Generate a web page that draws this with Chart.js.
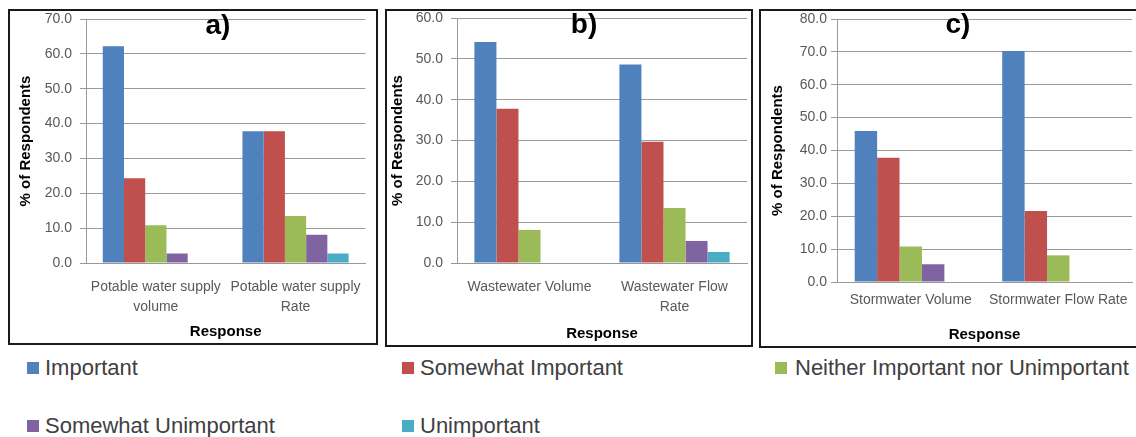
<!DOCTYPE html>
<html>
<head>
<meta charset="utf-8">
<script src="https://cdn.jsdelivr.net/npm/chart.js@4"></script>
<style>
body { margin: 0; background: #fff; width: 1136px; height: 437px; overflow: hidden; position: relative; font-family: 'Liberation Sans', Arial, sans-serif; }
.panel { position: absolute; border: 2px solid #1a1a1a; box-sizing: border-box; background: #fff; }
.panel canvas { display: block; }
.key { position: absolute; font-size: 22px; color: #404040; white-space: nowrap; line-height: 24px; height: 24px; }
.key i { position: absolute; left: 0; top: 6px; width: 12px; height: 12px; }
</style>
</head>
<body>
<div class="panel" style="left:8px;top:9px;width:370px;height:336px"><canvas id="a" width="366" height="332"></canvas></div>
<div class="panel" style="left:385px;top:9px;width:368px;height:338px"><canvas id="b" width="364" height="334"></canvas></div>
<div class="panel" style="left:759px;top:9px;width:380px;height:339px"><canvas id="c" width="376" height="335"></canvas></div>
<div id="legend"></div>
<script>
// responses (series)
const responses = ['Important', 'Somewhat Important', 'Neither Important nor Unimportant', 'Somewhat Unimportant', 'Unimportant'];
const colors = ['#4F81BD', '#C0504D', '#9BBB59', '#8064A2', '#4BACC6'];

// a) potable water
const potableCats = [['Potable water supply', 'volume'], ['Potable water supply', 'Rate']];
const potableVolume = [62.2, 24.3, 10.8, 2.7, 0];
const potableRate = [37.8, 37.8, 13.5, 8.1, 2.7];

// b) wastewater
const wasteCats = ['Wastewater Volume', ['Wastewater Flow', 'Rate']];
const wasteVolume = [54.1, 37.8, 8.1, 0, 0];
const wasteFlow = [48.6, 29.7, 13.5, 5.4, 2.7];

// c) stormwater
const stormCats = ['Stormwater Volume', 'Stormwater Flow Rate'];
const stormVolume = [45.9, 37.8, 10.8, 5.4, 0];
const stormFlow = [70.3, 21.6, 8.1, 0, 0];

const FONT = "'Liberation Sans', Arial, sans-serif";
Chart.defaults.font.family = FONT;
Chart.defaults.color = '#595959';

const panelLetter = {
  id: 'panelLetter',
  afterDraw(chart, args, opts) {
    const ctx = chart.ctx;
    ctx.save();
    ctx.font = 'bold 28px ' + FONT;
    ctx.fillStyle = '#000';
    ctx.textAlign = 'center';
    ctx.textBaseline = 'middle';
    ctx.fillText(opts.text, opts.x, opts.y);
    ctx.restore();
  }
};

function makePanel(id, cats, groups, max, cfg) {
  const datasets = responses.map((name, i) => ({
    label: name,
    data: groups.map(g => g[i]),
    backgroundColor: colors[i],
    barPercentage: 1,
    categoryPercentage: 0.76,
  }));
  new Chart(document.getElementById(id), {
    type: 'bar',
    data: { labels: cats, datasets: datasets },
    plugins: [panelLetter],
    options: {
      responsive: false,
      animation: false,
      layout: { padding: { left: 0, top: cfg.padTop, right: cfg.padRight, bottom: 0 } },
      plugins: {
        legend: { display: false },
        tooltip: { enabled: false },
        panelLetter: { text: cfg.letter, x: cfg.letterX, y: cfg.letterY },
      },
      scales: {
        x: {
          grid: { display: false, drawTicks: false },
          border: { color: '#999' },
          ticks: {
            autoSkip: false, maxRotation: 0, minRotation: 0,
            padding: cfg.xTickPad,
            font: { size: 14, lineHeight: 1.43 },
            color: '#595959',
          },
          title: {
            display: true, text: 'Response', color: '#000',
            font: { size: 15, weight: 'bold', lineHeight: 1.2 },
            padding: { top: 0, bottom: cfg.xTitlePad },
          },
          afterFit(scale) { scale.height = cfg.xHeight; },
        },
        y: {
          min: 0, max: max,
          grid: { color: '#999', tickLength: 6 },
          border: { color: '#999' },
          ticks: {
            stepSize: 10,
            padding: cfg.yTickPad,
            font: { size: 14, lineHeight: 1.1 },
            color: '#595959',
            callback: v => v.toFixed(1),
          },
          title: {
            display: true, text: '% of Respondents', color: '#000',
            font: { size: 15, weight: 'bold', lineHeight: 1.2 },
            padding: { top: cfg.yTitlePad, bottom: 0 },
          },
          afterFit(scale) {
            scale.width = cfg.yWidth;
            scale.paddingTop = 0;
            scale.paddingBottom = 0;
          },
        },
      },
    },
  });
}

makePanel('a', potableCats, [potableVolume, potableRate], 70, {
  padTop: 8, padRight: 6, yWidth: 76, xHeight: 80,
  yTickPad: 8, xTickPad: 14, xTitlePad: 2, yTitlePad: 7,
  letter: 'a)', letterX: 208, letterY: 15,
});
makePanel('b', wasteCats, [wasteVolume, wasteFlow], 60, {
  padTop: 7, padRight: 4, yWidth: 70, xHeight: 82,
  yTickPad: 8, xTickPad: 14, xTitlePad: 2, yTitlePad: 2,
  letter: 'b)', letterX: 197, letterY: 14,
});
makePanel('c', stormCats, [stormVolume, stormFlow], 80, {
  padTop: 8, padRight: 5, yWidth: 76, xHeight: 64,
  yTickPad: 4, xTickPad: 8, xTitlePad: 2, yTitlePad: 8,
  letter: 'c)', letterX: 197, letterY: 14,
});

// legend below the panels
const keySpots = [[27, 356], [402, 356], [775, 356], [27, 414], [402, 414]];
const legend = document.getElementById('legend');
responses.forEach((name, i) => {
  const el = document.createElement('div');
  el.className = 'key';
  el.style.left = keySpots[i][0] + 'px';
  el.style.top = keySpots[i][1] + 'px';
  el.style.paddingLeft = (i === 2 ? 20 : 18) + 'px';
  el.innerHTML = '<i style="background:' + colors[i] + '"></i>' + name;
  legend.appendChild(el);
});
</script>
</body>
</html>
